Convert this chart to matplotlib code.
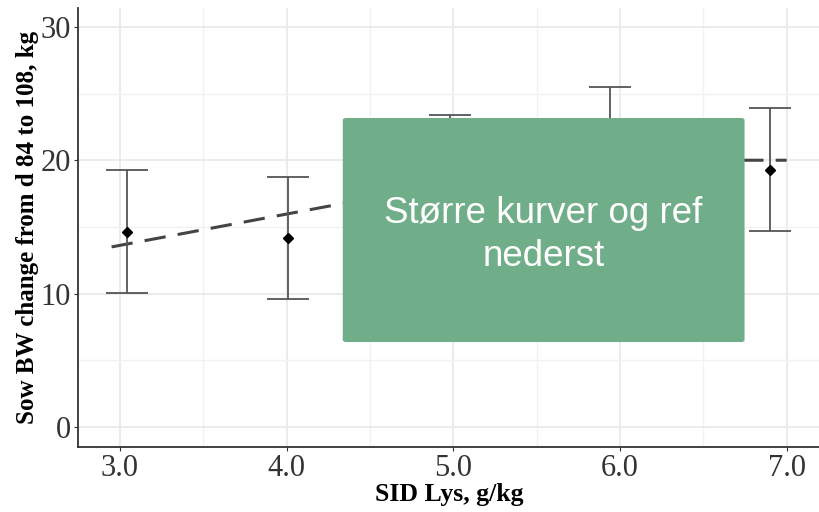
import numpy as np
import matplotlib.pyplot as plt
from matplotlib.patches import FancyBboxPatch

# Sow BW change vs SID Lys, mean +/- SD
lys = [3.04, 4.01, 4.98, 5.94, 6.90]
bw_mean = [14.6, 14.2, 18.8, 21.0, 19.3]
bw_low = [10.05, 9.6, 14.2, 16.5, 14.7]
bw_high = [19.25, 18.75, 23.4, 25.5, 23.9]

# broken-line fit
fit_x = [2.95, 5.72, 7.0]
fit_y = [13.5, 20.0, 20.0]

plt.rcParams['font.family'] = ['Liberation Serif', 'DejaVu Serif']

fig = plt.figure(figsize=(8.2, 5.12), dpi=100)
ax = fig.add_axes([0.095, 0.127, 0.905, 0.857])

err_lo = np.array(bw_mean) - np.array(bw_low)
err_hi = np.array(bw_high) - np.array(bw_mean)
ax.errorbar(lys, bw_mean, yerr=[err_lo, err_hi], fmt='none', ecolor='#555555',
            elinewidth=1.3, capsize=15, capthick=1.3, zorder=3)
ax.plot(lys, bw_mean, linestyle='none', marker='D', markersize=5,
        color='black', zorder=4)
ax.plot(fit_x, fit_y, linestyle=(0, (7, 4)), color='#444444', linewidth=2.2, zorder=2)

ax.set_xlim(2.748, 7.2)
ax.set_ylim(-1.5, 31.4)
ax.set_xticks([3, 4, 5, 6, 7])
ax.set_xticklabels(['3.0', '4.0', '5.0', '6.0', '7.0'])
ax.set_xticks([3.5, 4.5, 5.5, 6.5], minor=True)
ax.set_yticks([0, 10, 20, 30])
ax.set_yticks([5, 15, 25], minor=True)
ax.grid(which='major', color='#e8e8e8', linewidth=1.2)
ax.grid(which='minor', color='#f2f2f2', linewidth=1.0)
ax.set_axisbelow(True)

for side in ['top', 'right']:
    ax.spines[side].set_visible(False)
for side in ['left', 'bottom']:
    ax.spines[side].set_color('#333333')
    ax.spines[side].set_linewidth(1.3)
ax.tick_params(which='major', length=3, color='#333333', labelsize=22,
               labelcolor='#333333', pad=2)
ax.tick_params(which='minor', length=0)

ax.set_xlabel('SID Lys, g/kg', fontsize=18.5, fontweight='bold', labelpad=0)
ax.set_ylabel('Sow BW change from d 84 to 108, kg', fontsize=18,
              fontweight='bold', labelpad=1)

# note box on top of the plot
box = FancyBboxPatch((0.418, 0.332), 0.49, 0.4375, transform=fig.transFigure,
                     boxstyle='round,pad=0,rounding_size=0.004',
                     facecolor='#70ad89', edgecolor='none', zorder=10)
fig.patches.append(box)
fig.text(0.663, 0.541, 'Større kurver og ref\nnederst', color='white',
         fontsize=26.5, family=['Liberation Sans', 'DejaVu Sans'],
         ha='center', va='center', linespacing=1.32, zorder=11)

fig.savefig('out.png', dpi=100)
